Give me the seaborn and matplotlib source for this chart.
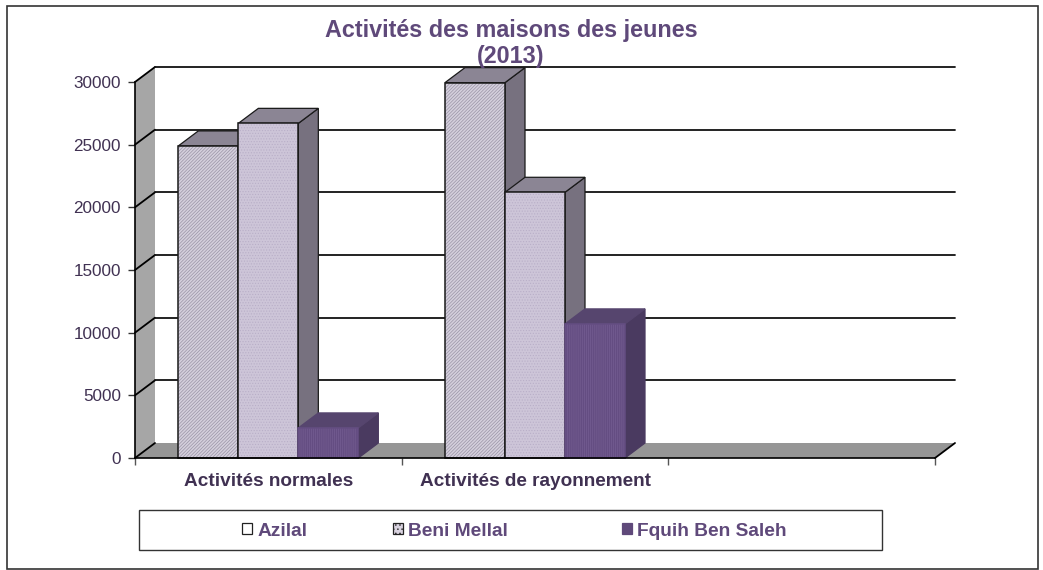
import matplotlib
matplotlib.use("Agg")
import matplotlib.pyplot as plt
from matplotlib.patches import Polygon, Rectangle, Patch
import pandas as pd
import seaborn as sns

categories = ["Activités normales", "Activités de rayonnement", ""]
series_names = ["Azilal", "Beni Mellal", "Fquih Ben Saleh"]
azilal = [24900, 29950]
beni_mellal = [26700, 21200]
fquih = [2400, 10700]
y_ticks = [0, 5000, 10000, 15000, 20000, 25000, 30000]

W, H = 1043, 570
TITLE = "#5f497a"
DARK = "#403152"
# face, hatch, hatch pattern, side, top
STYLES = {
    "Azilal": ("#d4cfdc", "#9a93a6", "//////////", "#77717f", "#8b8594"),
    "Beni Mellal": ("#cdc5d8", "#b9afc8", "......", "#77717f", "#8b8594"),
    "Fquih Ben Saleh": ("#644d82", "#755e92", "||||||||", "#4a3a60", "#56456e"),
}

sns.set_theme(style="white")
plt.rcParams["font.family"] = ["Liberation Sans", "DejaVu Sans"]
plt.rcParams["hatch.linewidth"] = 0.5

rows = []
for name, vals in zip(series_names, [azilal, beni_mellal, fquih]):
    for cat, v in zip(categories, vals):
        rows.append({"cat": cat, "serie": name, "val": v})
df = pd.DataFrame(rows)

fig = plt.figure(figsize=(W / 100, H / 100), dpi=100)
ax = fig.add_axes([135 / W, 1 - 458 / H, 800 / W, 376 / H])
ax.patch.set_visible(False)

sns.barplot(data=df, x="cat", y="val", hue="serie", order=categories,
            hue_order=series_names, width=0.675, gap=0, dodge=True,
            legend=False, ax=ax, zorder=5)
ax.set_xlim(-0.5, 2.5)
ax.set_ylim(0, 30000)

# depth of the fake 3d, 20px right and 15px up, in data units
dx = 20 / (800 / 3)
dy = 15 / (376 / 30000)
x0, x1 = -0.5, 2.5

# walls and floor
ax.add_patch(Polygon([(x0, 0), (x0 + dx, dy), (x0 + dx, 30000 + dy), (x0, 30000)],
                     fc="#a6a6a6", ec="none", clip_on=False, zorder=1))
ax.add_patch(Polygon([(x0, 0), (x0 + dx, dy), (x1 + dx, dy), (x1, 0)],
                     fc="#969696", ec="none", clip_on=False, zorder=1))
for t in y_ticks:
    ax.plot([x0, x0 + dx], [t, t + dy], color="black", lw=1.3, clip_on=False, zorder=2)
    if t > 0:
        ax.plot([x0 + dx, x1 + dx], [t + dy, t + dy], color="#111111", lw=1.3,
                clip_on=False, zorder=2)
ax.plot([x1, x1 + dx], [0, dy], color="black", lw=1.3, clip_on=False, zorder=2)

# extrude each bar, left to right so the next one covers the previous side
z = 5
order = []
for name, cont in zip(series_names, ax.containers):
    for bar in cont:
        if bar.get_height() > 0:
            order.append((bar.get_x(), name, bar))
for _, name, bar in sorted(order, key=lambda b: b[0]):
    face, hatch_col, pattern, side, top = STYLES[name]
    x, w, h = bar.get_x(), bar.get_width(), bar.get_height()
    ax.add_patch(Polygon([(x + w, 0), (x + w + dx, dy), (x + w + dx, h + dy), (x + w, h)],
                         fc=side, ec="#1a1a1a" if name != "Fquih Ben Saleh" else side,
                         lw=0.9, clip_on=False, zorder=z))
    ax.add_patch(Polygon([(x, h), (x + dx, h + dy), (x + w + dx, h + dy), (x + w, h)],
                         fc=top, ec="#1a1a1a" if name != "Fquih Ben Saleh" else top,
                         lw=0.9, clip_on=False, zorder=z + 0.1))
    bar.set_facecolor(face)
    bar.set_edgecolor(hatch_col)
    bar.set_hatch(pattern)
    bar.set_linewidth(0)
    bar.set_zorder(z + 0.2)
    ax.add_patch(Rectangle((x, 0), w, h, fc="none",
                           ec="#1a1a1a" if name != "Fquih Ben Saleh" else face,
                           lw=1.1, clip_on=False, zorder=z + 0.3))
    z += 1

for s in ["top", "right"]:
    ax.spines[s].set_visible(False)
for s in ["left", "bottom"]:
    ax.spines[s].set_color("black")
    ax.spines[s].set_linewidth(1.2)
    ax.spines[s].set_zorder(20)

ax.set_xlabel("")
ax.set_ylabel("")
ax.set_yticks(y_ticks)
ax.tick_params(axis="y", left=True, length=5, width=1, color="#333333", labelsize=12.3,
               labelcolor=DARK, pad=5)
# ticks sit between the categories, labels in the middle
ax.set_xticks([0, 1, 2])
ax.set_xticklabels(categories, fontweight="bold", fontsize=13.7, color=DARK)
ax.set_xticks([-0.5, 0.5, 1.5, 2.5], minor=True)
ax.tick_params(axis="x", which="major", bottom=False, pad=5)
ax.tick_params(axis="x", which="minor", bottom=True, length=5, width=1, color="#555555")

# title
fig.text(511 / W, 1 - 31 / H, "Activités des maisons des jeunes", ha="center", va="center",
         fontsize=16.8, fontweight="bold", color=TITLE)
fig.text(511 / W, 1 - 57 / H, "(2013)", ha="center", va="center",
         fontsize=16.8, fontweight="bold", color=TITLE, zorder=30)

# outer frame and legend box
fig.add_artist(Rectangle((6.5 / W, 1 - 569 / H), 1031.5 / W, 563 / H, fc="none",
                         ec="#333333", lw=1.2, transform=fig.transFigure))
fig.add_artist(Rectangle((139 / W, 1 - 550 / H), 743 / W, 40 / H, fc="white",
                         ec="#333333", lw=1.0, transform=fig.transFigure))
handles = [
    Patch(fc="white", ec="#222222", lw=0.9, label=series_names[0]),
    Patch(fc="#d9d3e0", ec="#222222", lw=0.9, hatch="....", label=series_names[1]),
    Patch(fc="#5f497a", ec="#5f497a", lw=0.9, label=series_names[2]),
]
# entries are unevenly spaced in the reference, so one legend each
for handle, left in zip(handles, [242, 393, 622]):
    leg = fig.legend(handles=[handle], loc="center left",
                     bbox_to_anchor=(left / W, 1 - 531 / H), frameon=False,
                     borderpad=0, borderaxespad=0, handlelength=0.5, handleheight=0.5,
                     handletextpad=0.3, labelcolor=TITLE,
                     prop={"weight": "bold", "size": 13.8})
    leg.set_zorder(10)

fig.savefig("out.png", dpi=100, facecolor="white")
